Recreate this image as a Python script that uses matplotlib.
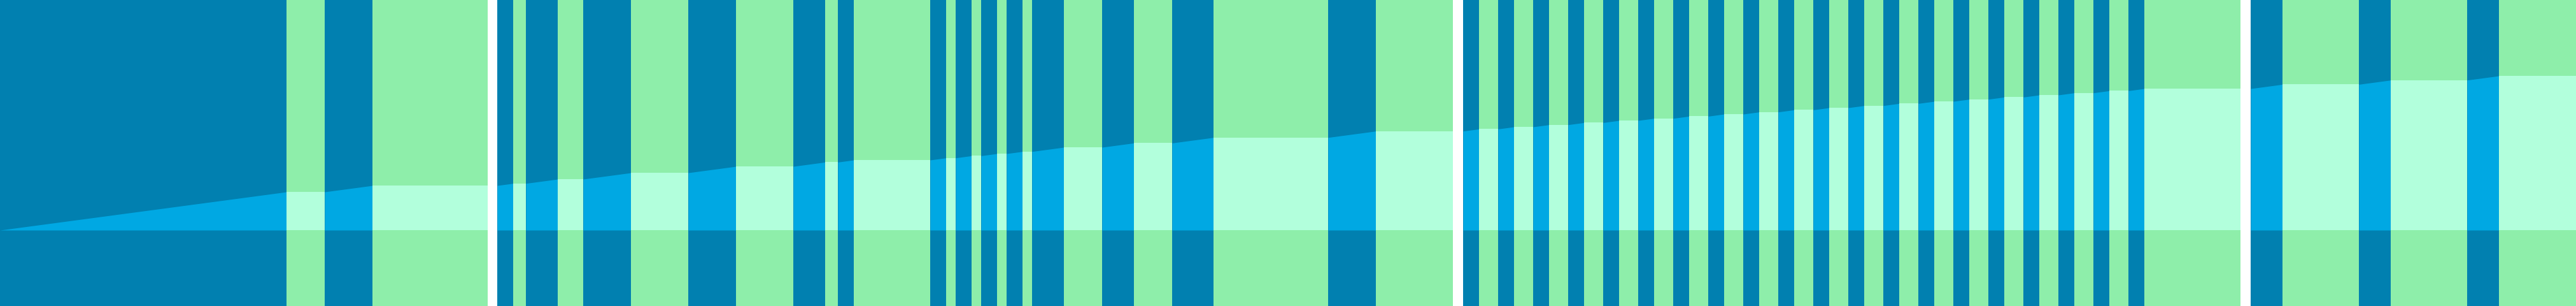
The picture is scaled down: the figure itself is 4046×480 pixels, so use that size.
import numpy as np
import matplotlib.pyplot as plt

# session log, minutes since start: edges of each block and what it was
edges = [0, 450, 510, 585, 766, 781, 806, 826, 876, 916, 991, 1081, 1156, 1246,
         1296, 1316, 1341, 1461, 1486, 1501, 1526, 1541, 1566, 1581, 1606, 1621,
         1671, 1731, 1781, 1841, 1906, 2086, 2161, 2282, 2298, 2323, 2353, 2378,
         2408, 2433, 2463, 2488, 2518, 2543, 2573, 2598, 2628, 2653, 2683, 2708,
         2738, 2763, 2793, 2818, 2848, 2873, 2903, 2928, 2958, 2983, 3013, 3038,
         3068, 3093, 3123, 3148, 3178, 3203, 3233, 3258, 3288, 3313, 3343, 3368,
         3519, 3535, 3585, 3705, 3755, 3875, 3925, 4046]
states = ["focus", "break", "focus", "break", "off",
          "focus", "break", "focus", "break", "focus", "break", "focus", "break",
          "focus", "break", "focus", "break", "focus", "break", "focus", "break",
          "focus", "break", "focus", "break", "focus", "break", "focus", "break",
          "focus", "break", "focus", "break", "off",
          "focus", "break", "focus", "break", "focus", "break", "focus", "break",
          "focus", "break", "focus", "break", "focus", "break", "focus", "break",
          "focus", "break", "focus", "break", "focus", "break", "focus", "break",
          "focus", "break", "focus", "break", "focus", "break", "focus", "break",
          "focus", "break", "focus", "break", "focus", "break", "focus", "break", "off",
          "focus", "break", "focus", "break", "focus", "break"]

bg_colors = {"focus": "#0180b0", "break": "#8eeeaa", "off": "white"}
fill_colors = {"focus": "#00a8e3", "break": "#b2ffdc"}

# cumulative focus time at every edge
cum = [0]
for i, st in enumerate(states):
    d = edges[i + 1] - edges[i]
    cum.append(cum[-1] + (d if st == "focus" else 0))

fig = plt.figure(figsize=(40.46, 4.8), dpi=100)
ax = fig.add_axes([0, 0, 1, 1])

for i, st in enumerate(states):
    x0, x1 = edges[i], edges[i + 1]
    ax.axvspan(x0, x1, color=bg_colors[st], lw=0, antialiased=False)
    if st == "off":
        continue
    ax.fill_between([x0, x1], [0, 0], [cum[i], cum[i + 1]],
                    color=fill_colors[st], lw=0)

ax.set_xlim(edges[0], edges[-1])
ax.set_ylim(-892.5, 2707.5)
ax.axis("off")

fig.savefig("out.png", dpi=100)
